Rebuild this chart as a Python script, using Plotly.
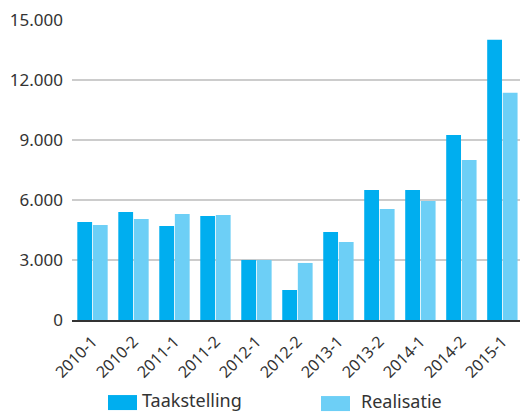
import plotly.graph_objects as go

categories = ["2010-1", "2010-2", "2011-1", "2011-2", "2012-1", "2012-2",
              "2013-1", "2013-2", "2014-1", "2014-2", "2015-1"]
taakstelling = [4900, 5400, 4700, 5200, 3000, 1500, 4400, 6500, 6500, 9250, 14000]
realisatie = [4750, 5050, 5300, 5250, 3000, 2850, 3900, 5550, 5950, 8000, 11350]
y_ticks = [0, 3000, 6000, 9000, 12000, 15000]
series_names = ["Taakstelling", "Realisatie"]
colors = ["#00AEEF", "#6DCFF6"]

W, H = 520, 412
Y_TOP = 15040
L, R = 72, 0
B = 92
T = 20 - 300 * (Y_TOP - 15000) / 15000

fig = go.Figure()
fig.add_trace(go.Bar(x=categories, y=taakstelling, name=series_names[0],
                     marker=dict(color=colors[0], line=dict(width=0))))
fig.add_trace(go.Bar(x=categories, y=realisatie, name=series_names[1],
                     marker=dict(color=colors[1], line=dict(width=0))))

font_family = "'Noto Sans', 'Open Sans', sans-serif"

def px_to_paper(px, py):
    return (px - L) / (W - L - R), (H - B - py) / (H - T - B)

shapes = []
annotations = []
legend_items = [(108, 137, 395, 410, 140), (321, 350, 396, 411, 359)]
for (x0, x1, y0, y1, tx), name, col in zip(legend_items, series_names, colors):
    a0, b1 = px_to_paper(x0, y0)
    a1, b0 = px_to_paper(x1, y1)
    shapes.append(dict(type="rect", xref="paper", yref="paper", x0=a0, x1=a1, y0=b0, y1=b1,
                       fillcolor=col, line=dict(width=0)))
    ta, tb = px_to_paper(tx, (y0 + y1) / 2 - 3)
    annotations.append(dict(text=name, xref="paper", yref="paper", x=ta, y=tb,
                            xanchor="left", yanchor="middle", showarrow=False,
                            font=dict(size=18, color="#333333", family=font_family)))

fig.update_layout(
    width=W, height=H,
    margin=dict(l=L, r=R, t=T, b=B, pad=0, autoexpand=False),
    paper_bgcolor="white", plot_bgcolor="white",
    barmode="group", bargap=0.24, bargroupgap=0.05,
    showlegend=False,
    separators=",.",
    font=dict(family=font_family, color="#333333"),
    shapes=shapes, annotations=annotations,
)
fig.update_xaxes(type="category", range=[-0.5, 10.43], tickangle=-45, showgrid=False,
                 showline=True, linecolor="#333333", linewidth=2,
                 ticklabelstandoff=4,
                 tickfont=dict(size=16, color="#333333"), ticks="", automargin=False)
fig.update_yaxes(range=[0, Y_TOP], tickvals=y_ticks, tickformat=",",
                 showgrid=True, gridcolor="#cccccc", gridwidth=1.5,
                 zeroline=False, showline=False, ticks="", ticklen=0,
                 ticklabelstandoff=8, automargin=False,
                 tickfont=dict(size=17, color="#333333"))

fig.write_html("out.html", config={"displayModeBar": False},
               post_script="document.body.style.margin='0';")
